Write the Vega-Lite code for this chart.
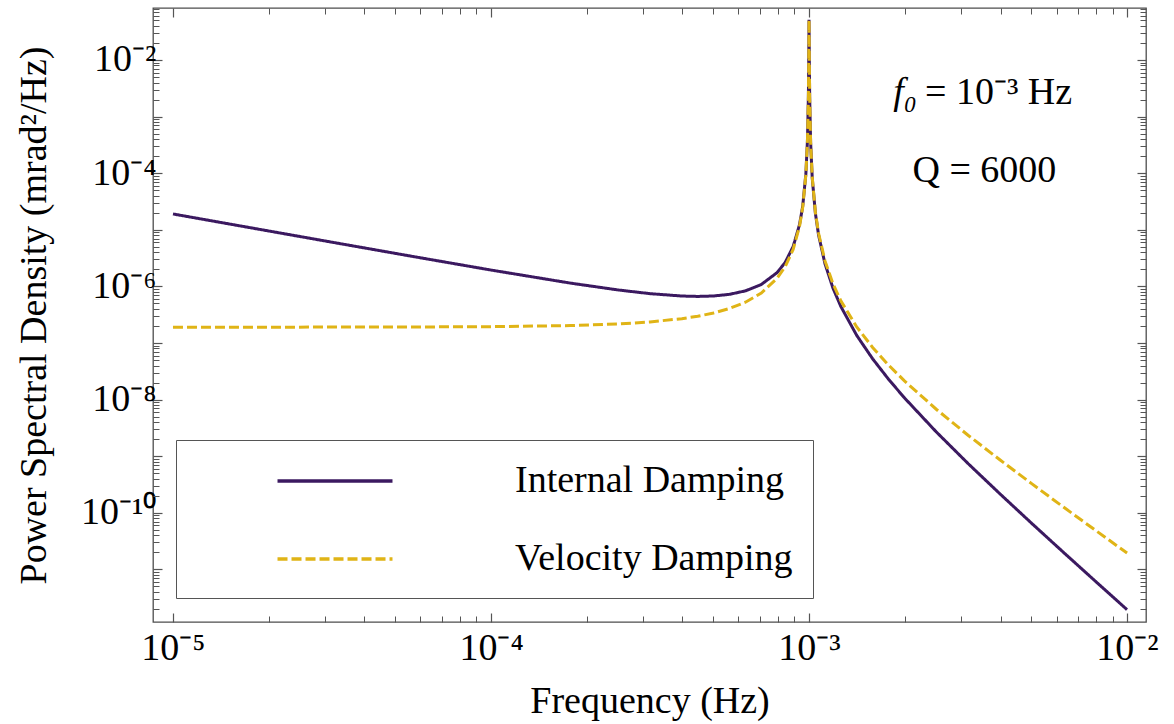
{
  "$schema": "https://vega.github.io/schema/vega-lite/v6.json",
  "width": 993,
  "height": 614,
  "autosize": {"type": "none"},
  "padding": {"left": 153, "top": 8, "right": 28, "bottom": 102},
  "background": "white",
  "config": {
    "font": "Liberation Serif",
    "view": {"stroke": "#4d4d4d", "strokeWidth": 1.3},
    "axis": {
      "grid": false, "domain": false,
      "labelFont": "Liberation Serif", "labelFontSize": 38, "labelColor": "#000",
      "titleFont": "Liberation Serif", "titleFontSize": 38, "titleFontWeight": "normal", "titleColor": "#000",
      "tickColor": "#555", "tickWidth": 1.2,
      "labelOverlap": false, "labelFlush": false, "labelBound": false
    },
    "legend": {
      "orient": "none", "legendX": 23, "legendY": 432,
      "padding": 20, "strokeColor": "#555", "fillColor": "white",
      "symbolType": "M-3,0H3", "symbolSize": 1469, "symbolStrokeWidth": 3.3,
      "symbolOffset": 118, "labelOffset": 159,
      "labelFont": "Liberation Serif", "labelFontSize": 38, "labelColor": "#000", "labelLimit": 0,
      "rowPadding": 38
    }
  },
  "datasets": {
    "curves": [
      {"f": 1e-5, "psd": 1.905e-5, "s": "Internal Damping"},
      {"f": 1.7783e-5, "psd": 1.072e-5, "s": "Internal Damping"},
      {"f": 3.1623e-5, "psd": 6.039e-6, "s": "Internal Damping"},
      {"f": 5.6234e-5, "psd": 3.412e-6, "s": "Internal Damping"},
      {"f": 1e-4, "psd": 1.945e-6, "s": "Internal Damping"},
      {"f": 1.7783e-4, "psd": 1.143e-6, "s": "Internal Damping"},
      {"f": 2.5119e-4, "psd": 8.650e-7, "s": "Internal Damping"},
      {"f": 3.1623e-4, "psd": 7.447e-7, "s": "Internal Damping"},
      {"f": 3.9811e-4, "psd": 6.761e-7, "s": "Internal Damping"},
      {"f": 4.4668e-4, "psd": 6.653e-7, "s": "Internal Damping"},
      {"f": 5.0119e-4, "psd": 6.776e-7, "s": "Internal Damping"},
      {"f": 5.6234e-4, "psd": 7.244e-7, "s": "Internal Damping"},
      {"f": 6.3096e-4, "psd": 8.337e-7, "s": "Internal Damping"},
      {"f": 7.0795e-4, "psd": 1.081e-6, "s": "Internal Damping"},
      {"f": 7.9433e-4, "psd": 1.762e-6, "s": "Internal Damping"},
      {"f": 8.4140e-4, "psd": 2.655e-6, "s": "Internal Damping"},
      {"f": 8.9125e-4, "psd": 5.047e-6, "s": "Internal Damping"},
      {"f": 9.3325e-4, "psd": 1.227e-5, "s": "Internal Damping"},
      {"f": 9.5499e-4, "psd": 2.576e-5, "s": "Internal Damping"},
      {"f": 9.7724e-4, "psd": 9.616e-5, "s": "Internal Damping"},
      {"f": 9.8855e-4, "psd": 3.724e-4, "s": "Internal Damping"},
      {"f": 9.9541e-4, "psd": 2.275e-3, "s": "Internal Damping"},
      {"f": 9.9770e-4, "psd": 9.036e-3, "s": "Internal Damping"},
      {"f": 1e-3, "psd": 5.129e-2, "s": "Internal Damping"},
      {"f": 1.0023e-3, "psd": 8.913e-3, "s": "Internal Damping"},
      {"f": 1.0046e-3, "psd": 2.218e-3, "s": "Internal Damping"},
      {"f": 1.0116e-3, "psd": 3.475e-4, "s": "Internal Damping"},
      {"f": 1.0233e-3, "psd": 8.375e-5, "s": "Internal Damping"},
      {"f": 1.0471e-3, "psd": 1.954e-5, "s": "Internal Damping"},
      {"f": 1.0715e-3, "psd": 8.110e-6, "s": "Internal Damping"},
      {"f": 1.1220e-3, "psd": 2.535e-6, "s": "Internal Damping"},
      {"f": 1.1885e-3, "psd": 9.419e-7, "s": "Internal Damping"},
      {"f": 1.2589e-3, "psd": 4.426e-7, "s": "Internal Damping"},
      {"f": 1.4125e-3, "psd": 1.361e-7, "s": "Internal Damping"},
      {"f": 1.5849e-3, "psd": 5.260e-8, "s": "Internal Damping"},
      {"f": 1.7783e-3, "psd": 2.291e-8, "s": "Internal Damping"},
      {"f": 1.9953e-3, "psd": 1.074e-8, "s": "Internal Damping"},
      {"f": 2.5119e-3, "psd": 2.692e-9, "s": "Internal Damping"},
      {"f": 3.1623e-3, "psd": 7.430e-10, "s": "Internal Damping"},
      {"f": 3.9811e-3, "psd": 2.173e-10, "s": "Internal Damping"},
      {"f": 5.0119e-3, "psd": 6.531e-11, "s": "Internal Damping"},
      {"f": 6.3096e-3, "psd": 2.004e-11, "s": "Internal Damping"},
      {"f": 7.9433e-3, "psd": 6.223e-12, "s": "Internal Damping"},
      {"f": 1e-2, "psd": 1.945e-12, "s": "Internal Damping"},
      {"f": 1e-5, "psd": 1.905e-7, "s": "Velocity Damping"},
      {"f": 1.7783e-5, "psd": 1.905e-7, "s": "Velocity Damping"},
      {"f": 3.1623e-5, "psd": 1.910e-7, "s": "Velocity Damping"},
      {"f": 5.6234e-5, "psd": 1.919e-7, "s": "Velocity Damping"},
      {"f": 1e-4, "psd": 1.945e-7, "s": "Velocity Damping"},
      {"f": 1.7783e-4, "psd": 2.032e-7, "s": "Velocity Damping"},
      {"f": 2.5119e-4, "psd": 2.173e-7, "s": "Velocity Damping"},
      {"f": 3.1623e-4, "psd": 2.355e-7, "s": "Velocity Damping"},
      {"f": 3.9811e-4, "psd": 2.692e-7, "s": "Velocity Damping"},
      {"f": 4.4668e-4, "psd": 2.972e-7, "s": "Velocity Damping"},
      {"f": 5.0119e-4, "psd": 3.396e-7, "s": "Velocity Damping"},
      {"f": 5.6234e-4, "psd": 4.074e-7, "s": "Velocity Damping"},
      {"f": 6.3096e-4, "psd": 5.260e-7, "s": "Velocity Damping"},
      {"f": 7.0795e-4, "psd": 7.656e-7, "s": "Velocity Damping"},
      {"f": 7.9433e-4, "psd": 1.400e-6, "s": "Velocity Damping"},
      {"f": 8.4140e-4, "psd": 2.234e-6, "s": "Velocity Damping"},
      {"f": 8.9125e-4, "psd": 4.498e-6, "s": "Velocity Damping"},
      {"f": 9.3325e-4, "psd": 1.146e-5, "s": "Velocity Damping"},
      {"f": 9.5499e-4, "psd": 2.460e-5, "s": "Velocity Damping"},
      {"f": 9.7724e-4, "psd": 9.397e-5, "s": "Velocity Damping"},
      {"f": 9.8855e-4, "psd": 3.681e-4, "s": "Velocity Damping"},
      {"f": 9.9541e-4, "psd": 2.265e-3, "s": "Velocity Damping"},
      {"f": 9.9770e-4, "psd": 9.016e-3, "s": "Velocity Damping"},
      {"f": 1e-3, "psd": 5.129e-2, "s": "Velocity Damping"},
      {"f": 1.0023e-3, "psd": 8.933e-3, "s": "Velocity Damping"},
      {"f": 1.0046e-3, "psd": 2.228e-3, "s": "Velocity Damping"},
      {"f": 1.0116e-3, "psd": 3.516e-4, "s": "Velocity Damping"},
      {"f": 1.0233e-3, "psd": 8.570e-5, "s": "Velocity Damping"},
      {"f": 1.0471e-3, "psd": 2.046e-5, "s": "Velocity Damping"},
      {"f": 1.0715e-3, "psd": 8.690e-6, "s": "Velocity Damping"},
      {"f": 1.1220e-3, "psd": 2.844e-6, "s": "Velocity Damping"},
      {"f": 1.1885e-3, "psd": 1.119e-6, "s": "Velocity Damping"},
      {"f": 1.2589e-3, "psd": 5.572e-7, "s": "Velocity Damping"},
      {"f": 1.4125e-3, "psd": 1.923e-7, "s": "Velocity Damping"},
      {"f": 1.5849e-3, "psd": 8.337e-8, "s": "Velocity Damping"},
      {"f": 1.7783e-3, "psd": 4.074e-8, "s": "Velocity Damping"},
      {"f": 1.9953e-3, "psd": 2.143e-8, "s": "Velocity Damping"},
      {"f": 2.5119e-3, "psd": 6.761e-9, "s": "Velocity Damping"},
      {"f": 3.1623e-3, "psd": 2.350e-9, "s": "Velocity Damping"},
      {"f": 3.9811e-3, "psd": 8.650e-10, "s": "Velocity Damping"},
      {"f": 5.0119e-3, "psd": 3.273e-10, "s": "Velocity Damping"},
      {"f": 6.3096e-3, "psd": 1.265e-10, "s": "Velocity Damping"},
      {"f": 7.9433e-3, "psd": 4.943e-11, "s": "Velocity Damping"},
      {"f": 1e-2, "psd": 1.945e-11, "s": "Velocity Damping"}
    ],
    "notes": [
      {"f": 2.316e-3, "psd": 2.61e-3, "a": "f₀", "b": "= 10⁻³ Hz"}
    ],
    "notes2": [
      {"f": 3.56e-3, "psd": 1.094e-4, "t": "Q = 6000"}
    ]
  },
  "data": {"name": "curves"},
  "layer": [
    {
      "mark": {"type": "line", "strokeWidth": 3, "clip": true},
      "encoding": {
        "x": {
          "field": "f", "type": "quantitative",
          "scale": {"type": "log", "domain": [8.653e-6, 1.147e-2], "nice": false},
          "axis": {
            "orient": "bottom", "values": [1e-5, 1e-4, 1e-3, 1e-2],
            "labelExpr": "'10⁻' + ['⁰','¹','²','³','⁴','⁵','⁶','⁷','⁸','⁹'][round(-log(datum.value)/LN10)]",
            "tickSize": -9, "labelPadding": 16, "title": "Frequency (Hz)", "titlePadding": 15
          }
        },
        "y": {
          "field": "psd", "type": "quantitative",
          "scale": {"type": "log", "domain": [1.178e-12, 0.0829], "nice": false},
          "axis": {
            "orient": "left",
            "values": [1e-11, 1e-10, 1e-9, 1e-8, 1e-7, 1e-6, 1e-5, 1e-4, 1e-3, 1e-2],
            "labelExpr": "round(-log(datum.value)/LN10) % 2 == 0 ? '10⁻' + (round(-log(datum.value)/LN10) == 10 ? '¹⁰' : ['⁰','¹','²','³','⁴','⁵','⁶','⁷','⁸','⁹'][round(-log(datum.value)/LN10)]) : ''",
            "tickSize": -9, "labelPadding": 6,
            "title": "Power Spectral Density (mrad²/Hz)", "titlePadding": 27
          }
        },
        "color": {
          "field": "s", "type": "nominal",
          "scale": {"domain": ["Internal Damping", "Velocity Damping"], "range": ["#3b1960", "#e0b416"]},
          "legend": {"title": null}
        },
        "strokeDash": {
          "field": "s", "type": "nominal",
          "scale": {"domain": ["Internal Damping", "Velocity Damping"], "range": [[1, 0], [10, 4]]},
          "legend": {"title": null}
        }
      }
    },
    {
      "mark": {"type": "point", "opacity": 0},
      "encoding": {
        "x": {
          "field": "f", "type": "quantitative",
          "scale": {"type": "log", "domain": [8.653e-6, 1.147e-2], "nice": false},
          "axis": {
            "orient": "bottom", "labels": false, "title": null, "tickSize": -6, "tickWidth": 1,
            "values": [2e-5, 3e-5, 4e-5, 5e-5, 6e-5, 7e-5, 8e-5, 9e-5, 2e-4, 3e-4, 4e-4, 5e-4, 6e-4, 7e-4, 8e-4, 9e-4, 2e-3, 3e-3, 4e-3, 5e-3, 6e-3, 7e-3, 8e-3, 9e-3]
          }
        },
        "y": {
          "field": "psd", "type": "quantitative",
          "scale": {"type": "log", "domain": [1.178e-12, 0.0829], "nice": false},
          "axis": {
            "orient": "left", "labels": false, "title": null, "tickSize": -6, "tickWidth": 1,
            "values": [2e-12, 3e-12, 4e-12, 5e-12, 6e-12, 7e-12, 8e-12, 9e-12, 2e-11, 3e-11, 4e-11, 5e-11, 6e-11, 7e-11, 8e-11, 9e-11, 2e-10, 3e-10, 4e-10, 5e-10, 6e-10, 7e-10, 8e-10, 9e-10, 2e-9, 3e-9, 4e-9, 5e-9, 6e-9, 7e-9, 8e-9, 9e-9, 2e-8, 3e-8, 4e-8, 5e-8, 6e-8, 7e-8, 8e-8, 9e-8, 2e-7, 3e-7, 4e-7, 5e-7, 6e-7, 7e-7, 8e-7, 9e-7, 2e-6, 3e-6, 4e-6, 5e-6, 6e-6, 7e-6, 8e-6, 9e-6, 2e-5, 3e-5, 4e-5, 5e-5, 6e-5, 7e-5, 8e-5, 9e-5, 2e-4, 3e-4, 4e-4, 5e-4, 6e-4, 7e-4, 8e-4, 9e-4, 2e-3, 3e-3, 4e-3, 5e-3, 6e-3, 7e-3, 8e-3, 9e-3, 2e-2, 3e-2, 4e-2, 5e-2, 6e-2, 7e-2, 8e-2]
          }
        }
      }
    },
    {
      "mark": {"type": "point", "opacity": 0},
      "encoding": {
        "x": {
          "field": "f", "type": "quantitative",
          "scale": {"type": "log", "domain": [8.653e-6, 1.147e-2], "nice": false},
          "axis": {"orient": "top", "labels": false, "title": null, "tickSize": -9, "values": [1e-5, 1e-4, 1e-3, 1e-2]}
        },
        "y": {
          "field": "psd", "type": "quantitative",
          "scale": {"type": "log", "domain": [1.178e-12, 0.0829], "nice": false},
          "axis": {"orient": "right", "labels": false, "title": null, "tickSize": -9, "values": [1e-11, 1e-10, 1e-9, 1e-8, 1e-7, 1e-6, 1e-5, 1e-4, 1e-3, 1e-2]}
        }
      }
    },
    {
      "mark": {"type": "point", "opacity": 0},
      "encoding": {
        "x": {
          "field": "f", "type": "quantitative",
          "scale": {"type": "log", "domain": [8.653e-6, 1.147e-2], "nice": false},
          "axis": {
            "orient": "top", "labels": false, "title": null, "tickSize": -6, "tickWidth": 1,
            "values": [2e-5, 3e-5, 4e-5, 5e-5, 6e-5, 7e-5, 8e-5, 9e-5, 2e-4, 3e-4, 4e-4, 5e-4, 6e-4, 7e-4, 8e-4, 9e-4, 2e-3, 3e-3, 4e-3, 5e-3, 6e-3, 7e-3, 8e-3, 9e-3]
          }
        },
        "y": {
          "field": "psd", "type": "quantitative",
          "scale": {"type": "log", "domain": [1.178e-12, 0.0829], "nice": false},
          "axis": {
            "orient": "right", "labels": false, "title": null, "tickSize": -6, "tickWidth": 1,
            "values": [2e-12, 3e-12, 4e-12, 5e-12, 6e-12, 7e-12, 8e-12, 9e-12, 2e-11, 3e-11, 4e-11, 5e-11, 6e-11, 7e-11, 8e-11, 9e-11, 2e-10, 3e-10, 4e-10, 5e-10, 6e-10, 7e-10, 8e-10, 9e-10, 2e-9, 3e-9, 4e-9, 5e-9, 6e-9, 7e-9, 8e-9, 9e-9, 2e-8, 3e-8, 4e-8, 5e-8, 6e-8, 7e-8, 8e-8, 9e-8, 2e-7, 3e-7, 4e-7, 5e-7, 6e-7, 7e-7, 8e-7, 9e-7, 2e-6, 3e-6, 4e-6, 5e-6, 6e-6, 7e-6, 8e-6, 9e-6, 2e-5, 3e-5, 4e-5, 5e-5, 6e-5, 7e-5, 8e-5, 9e-5, 2e-4, 3e-4, 4e-4, 5e-4, 6e-4, 7e-4, 8e-4, 9e-4, 2e-3, 3e-3, 4e-3, 5e-3, 6e-3, 7e-3, 8e-3, 9e-3, 2e-2, 3e-2, 4e-2, 5e-2, 6e-2, 7e-2, 8e-2]
          }
        }
      }
    },
    {
      "data": {"name": "notes"},
      "mark": {"type": "text", "font": "Liberation Serif", "fontSize": 38, "fontStyle": "italic", "align": "right", "baseline": "middle", "dx": -8, "color": "#000"},
      "encoding": {
        "x": {"field": "f", "type": "quantitative", "scale": {"type": "log", "domain": [8.653e-6, 1.147e-2], "nice": false}, "axis": null},
        "y": {"field": "psd", "type": "quantitative", "scale": {"type": "log", "domain": [1.178e-12, 0.0829], "nice": false}, "axis": null},
        "text": {"field": "a"}
      }
    },
    {
      "data": {"name": "notes"},
      "mark": {"type": "text", "font": "Liberation Serif", "fontSize": 38, "align": "left", "baseline": "middle", "color": "#000"},
      "encoding": {
        "x": {"field": "f", "type": "quantitative", "scale": {"type": "log", "domain": [8.653e-6, 1.147e-2], "nice": false}, "axis": null},
        "y": {"field": "psd", "type": "quantitative", "scale": {"type": "log", "domain": [1.178e-12, 0.0829], "nice": false}, "axis": null},
        "text": {"field": "b"}
      }
    },
    {
      "data": {"name": "notes2"},
      "mark": {"type": "text", "font": "Liberation Serif", "fontSize": 38, "align": "center", "baseline": "middle", "color": "#000"},
      "encoding": {
        "x": {"field": "f", "type": "quantitative", "scale": {"type": "log", "domain": [8.653e-6, 1.147e-2], "nice": false}, "axis": null},
        "y": {"field": "psd", "type": "quantitative", "scale": {"type": "log", "domain": [1.178e-12, 0.0829], "nice": false}, "axis": null},
        "text": {"field": "t"}
      }
    }
  ],
  "resolve": {"axis": {"x": "independent", "y": "independent"}}
}
